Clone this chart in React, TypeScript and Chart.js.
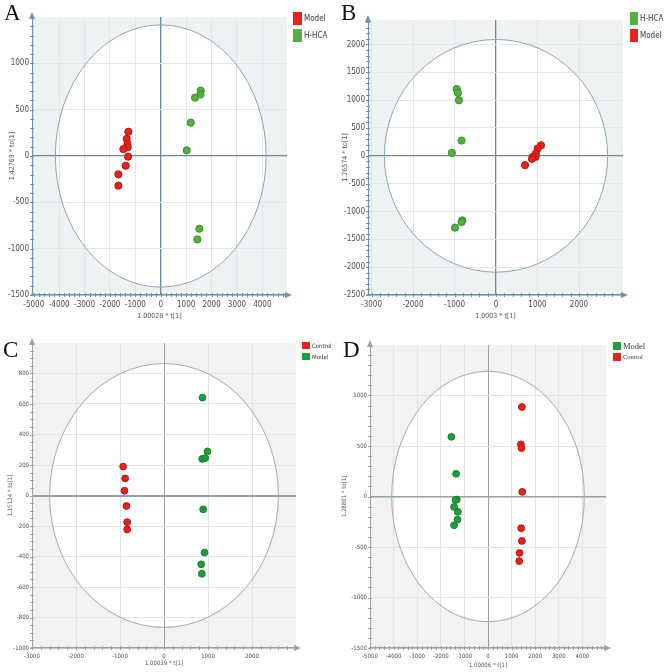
import React, { useEffect, useRef } from "react";
import { Chart, registerables } from "chart.js";
Chart.register(...registerables);

// ---------- Panel A ----------
const A_X_TICKS = [-5000, -4000, -3000, -2000, -1000, 0, 1000, 2000, 3000, 4000];
const A_Y_TICKS = [-1500, -1000, -500, 0, 500, 1000];
const A_MODEL_T = [-1275, -1340, -1310, -1300, -1472, -1287, -1380, -1669, -1669];
const A_MODEL_TO = [262, 185, 130, 95, 75, -7, -105, -198, -320];
const A_HHCA_T = [1575, 1560, 1350, 1181, 1024, 1520, 1441];
const A_HHCA_TO = [705, 665, 630, 360, 61, -785, -900];

// ---------- Panel B ----------
const B_X_TICKS = [-3000, -2000, -1000, 0, 1000, 2000];
const B_Y_TICKS = [-2500, -2000, -1500, -1000, -500, 0, 500, 1000, 1500, 2000];
const B_HHCA_T = [-948, -917, -893, -831, -1064, -815, -830, -988];
const B_HHCA_TO = [1200, 1130, 997, 274, 54, -1160, -1190, -1290];
const B_MODEL_T = [1084, 1004, 960, 956, 884, 867, 699];
const B_MODEL_TO = [190, 131, 40, -18, -20, -54, -168];

// ---------- Panel C ----------
const C_X_TICKS = [-3000, -2000, -1000, 0, 1000, 2000];
const C_Y_TICKS = [-1000, -800, -600, -400, -200, 0, 200, 400, 600, 800];
const C_CONTROL_T = [-929, -883, -898, -852, -837, -837];
const C_CONTROL_TO = [190, 112, 31, -69, -175, -223];
const C_MODEL_T = [875, 989, 868, 936, 890, 921, 845, 860];
const C_MODEL_TO = [642, 289, 240, 245, -91, -374, -451, -513];

// ---------- Panel D ----------
const D_X_TICKS = [-5000, -4000, -3000, -2000, -1000, 0, 1000, 2000, 3000, 4000];
const D_Y_TICKS = [-1500, -1000, -500, 0, 500, 1000];
const D_MODEL_T = [-1552, -1351, -1322, -1380, -1437, -1278, -1293, -1437];
const D_MODEL_TO = [591, 225, -30, -35, -103, -152, -228, -285];
const D_CONTROL_T = [1437, 1394, 1420, 1451, 1408, 1437, 1336, 1322];
const D_CONTROL_TO = [886, 516, 479, 46, -314, -440, -559, -639];

const RED = "#e5231d";
const RED_B = "#b81410";
const GREEN_AB = "#52b13c";
const GREEN_AB_B = "#3a8f2a";
const GREEN_CD = "#1f9e3b";
const GREEN_CD_B = "#16802d";

const NARROW = "'Liberation Sans Narrow', 'DejaVu Sans Condensed', 'Liberation Sans', sans-serif";
const SERIF = "'Liberation Serif', 'DejaVu Serif', serif";

type Series = { label: string; xs: number[]; ys: number[]; color: string; border: string };
type Cfg = {
  letter: string;
  left: number; top: number; w: number; h: number;
  area: { left: number; right: number; top: number; bottom: number };
  xMin: number; xMax: number; yMin: number; yMax: number;
  xTicks: number[]; yTicks: number[];
  xMinor: number; yMinor: number;
  rx: number; ry: number;
  xTitle: string; yTitle: string;
  series: Series[];
  tickSize: number; titleSize: number; radius: number;
  bg: string; grid: string; zeroX: string; zeroY: string; zeroXW: number; zeroYW: number;
  axis: string; ellipse: string;
  legendX: number; legendY: number[]; legendFont: string; legendSizes: number[];
  boxW: number; boxH: number;
  letterX: number; letterY: number;
  titlePadX: number; titlePadY: number;
};

const PANELS: Cfg[] = [
  {
    letter: "A", left: 0, top: 0, w: 330, h: 326,
    area: { left: 32, right: 287, top: 17, bottom: 295 },
    xMin: -5070, xMax: 4970, yMin: -1500, yMax: 1500,
    xTicks: A_X_TICKS, yTicks: A_Y_TICKS, xMinor: 200, yMinor: 100,
    rx: 4150, ry: 1415,
    xTitle: "1.00028 * t[1]", yTitle: "1.42769 * to[1]",
    series: [
      { label: "Model", xs: A_MODEL_T, ys: A_MODEL_TO, color: RED, border: RED_B },
      { label: "H-HCA", xs: A_HHCA_T, ys: A_HHCA_TO, color: GREEN_AB, border: GREEN_AB_B },
    ],
    tickSize: 8, titleSize: 7, radius: 3.6,
    bg: "#eef2f3", grid: "#e0e7ea", zeroX: "#6d8a97", zeroY: "#6d8a97", zeroXW: 1.3, zeroYW: 1.3,
    axis: "#6f94a6", ellipse: "#8ea6b2",
    legendX: 293, legendY: [12, 29], legendFont: NARROW, legendSizes: [8, 8], boxW: 9, boxH: 13,
    letterX: 4, letterY: 1, titlePadX: 8, titlePadY: 6,
  },
  {
    letter: "B", left: 330, top: 0, w: 339, h: 326,
    area: { left: 38, right: 293, top: 20, bottom: 295 },
    xMin: -3085, xMax: 3060, yMin: -2500, yMax: 2440,
    xTicks: B_X_TICKS, yTicks: B_Y_TICKS, xMinor: 200, yMinor: 100,
    rx: 2690, ry: 2090,
    xTitle: "1.0003 * t[1]", yTitle: "1.26574 * to[1]",
    series: [
      { label: "H-HCA", xs: B_HHCA_T, ys: B_HHCA_TO, color: GREEN_AB, border: GREEN_AB_B },
      { label: "Model", xs: B_MODEL_T, ys: B_MODEL_TO, color: RED, border: RED_B },
    ],
    tickSize: 8, titleSize: 7, radius: 3.6,
    bg: "#eef2f3", grid: "#e0e7ea", zeroX: "#6d8a97", zeroY: "#6d8a97", zeroXW: 1.3, zeroYW: 1.3,
    axis: "#6f94a6", ellipse: "#8ea6b2",
    legendX: 300, legendY: [12, 29], legendFont: NARROW, legendSizes: [8, 8], boxW: 8, boxH: 13,
    letterX: 11, letterY: 1, titlePadX: 11, titlePadY: 6,
  },
  {
    letter: "C", left: 0, top: 330, w: 330, h: 342,
    area: { left: 32, right: 296, top: 13, bottom: 318 },
    xMin: -3000, xMax: 3000, yMin: -1000, yMax: 1000,
    xTicks: C_X_TICKS, yTicks: C_Y_TICKS, xMinor: 200, yMinor: 50,
    rx: 2600, ry: 865,
    xTitle: "1.00039 * t[1]", yTitle: "1.15124 * to[1]",
    series: [
      { label: "Control", xs: C_CONTROL_T, ys: C_CONTROL_TO, color: RED, border: RED_B },
      { label: "Model", xs: C_MODEL_T, ys: C_MODEL_TO, color: GREEN_CD, border: GREEN_CD_B },
    ],
    tickSize: 6, titleSize: 6, radius: 3.4,
    bg: "#f2f2f2", grid: "#e3e3e3", zeroX: "#9a9fa0", zeroY: "#8ea3a8", zeroXW: 1, zeroYW: 2,
    axis: "#a0a0a0", ellipse: "#a9a9a9",
    legendX: 302, legendY: [12, 23], legendFont: NARROW, legendSizes: [6, 6], boxW: 8, boxH: 7,
    letterX: 3, letterY: 8, titlePadX: 7, titlePadY: 5,
  },
  {
    letter: "D", left: 330, top: 330, w: 339, h: 342,
    area: { left: 40, right: 276, top: 15, bottom: 318 },
    xMin: -5000, xMax: 5000, yMin: -1500, yMax: 1500,
    xTicks: D_X_TICKS, yTicks: D_Y_TICKS, xMinor: 200, yMinor: 100,
    rx: 4080, ry: 1240,
    xTitle: "1.00006 * t[1]", yTitle: "1.28801 * to[1]",
    series: [
      { label: "Model", xs: D_MODEL_T, ys: D_MODEL_TO, color: GREEN_CD, border: GREEN_CD_B },
      { label: "Control", xs: D_CONTROL_T, ys: D_CONTROL_TO, color: RED, border: RED_B },
    ],
    tickSize: 6, titleSize: 6, radius: 3.4,
    bg: "#f2f2f2", grid: "#e3e3e3", zeroX: "#9a9fa0", zeroY: "#8ea3a8", zeroXW: 1, zeroYW: 1.5,
    axis: "#a0a0a0", ellipse: "#a9a9a9",
    legendX: 283, legendY: [12, 23], legendFont: SERIF, legendSizes: [8.5, 6.5], boxW: 8, boxH: 8,
    letterX: 13, letterY: 8, titlePadX: 11, titlePadY: 3,
  },
];

function Panel({ cfg }: { cfg: Cfg }) {
  const ref = useRef<HTMLCanvasElement>(null);
  useEffect(() => {
    const canvas = ref.current!;
    const deco = {
      id: "pcaDeco",
      beforeDraw(chart: any) {
        const { ctx, chartArea: a, scales } = chart;
        const xs = scales.x, ys = scales.y;
        ctx.save();
        ctx.fillStyle = cfg.bg;
        ctx.fillRect(a.left, a.top, a.right - a.left, a.bottom - a.top);
        const cx = xs.getPixelForValue(0), cy = ys.getPixelForValue(0);
        const rxp = xs.getPixelForValue(cfg.rx) - cx;
        const ryp = cy - ys.getPixelForValue(cfg.ry);
        ctx.beginPath();
        ctx.ellipse(cx, cy, rxp, ryp, 0, 0, Math.PI * 2);
        ctx.fillStyle = "#ffffff";
        ctx.fill();
        ctx.restore();
      },
      beforeDatasetsDraw(chart: any) {
        const { ctx, scales } = chart;
        const xs = scales.x, ys = scales.y;
        const cx = xs.getPixelForValue(0), cy = ys.getPixelForValue(0);
        const rxp = xs.getPixelForValue(cfg.rx) - cx;
        const ryp = cy - ys.getPixelForValue(cfg.ry);
        ctx.save();
        ctx.beginPath();
        ctx.ellipse(cx, cy, rxp, ryp, 0, 0, Math.PI * 2);
        ctx.strokeStyle = cfg.ellipse;
        ctx.lineWidth = 1;
        ctx.stroke();
        ctx.restore();
      },
      afterDraw(chart: any) {
        const { ctx, chartArea: a, scales } = chart;
        const xs = scales.x, ys = scales.y;
        ctx.save();
        ctx.strokeStyle = cfg.axis;
        ctx.fillStyle = cfg.axis;
        ctx.lineWidth = 1;
        ctx.beginPath();
        for (let v = Math.ceil(cfg.xMin / cfg.xMinor) * cfg.xMinor; v <= cfg.xMax; v += cfg.xMinor) {
          const px = Math.round(xs.getPixelForValue(v)) + 0.5;
          ctx.moveTo(px, a.bottom - 2);
          ctx.lineTo(px, a.bottom + 2);
        }
        for (let v = Math.ceil(cfg.yMin / cfg.yMinor) * cfg.yMinor; v <= cfg.yMax; v += cfg.yMinor) {
          const py = Math.round(ys.getPixelForValue(v)) + 0.5;
          ctx.moveTo(a.left - 2, py);
          ctx.lineTo(a.left + 2, py);
        }
        ctx.stroke();
        ctx.beginPath();
        ctx.moveTo(a.right + 5, a.bottom);
        ctx.lineTo(a.right - 2, a.bottom - 3);
        ctx.lineTo(a.right - 2, a.bottom + 3);
        ctx.closePath();
        ctx.fill();
        ctx.beginPath();
        ctx.moveTo(a.left, a.top - 5);
        ctx.lineTo(a.left - 3, a.top + 2);
        ctx.lineTo(a.left + 3, a.top + 2);
        ctx.closePath();
        ctx.fill();
        ctx.restore();
      },
    };
    const gridColor = (zero: string) => (c: any) => (c.tick && c.tick.value === 0 ? zero : cfg.grid);
    const gridWidth = (zw: number) => (c: any) => (c.tick && c.tick.value === 0 ? zw : 1);
    const tickFont = { family: NARROW, size: cfg.tickSize };
    const chart = new Chart(canvas, {
      type: "scatter",
      data: {
        datasets: cfg.series.map((s) => ({
          label: s.label,
          data: s.xs.map((x, i) => ({ x, y: s.ys[i] })),
          backgroundColor: s.color,
          borderColor: s.border,
          borderWidth: 1,
          pointRadius: cfg.radius,
          pointHoverRadius: cfg.radius,
        })),
      },
      options: {
        responsive: false,
        animation: false,
        events: [],
        layout: { padding: { left: 0, top: cfg.area.top, right: cfg.w - cfg.area.right, bottom: 0 } },
        plugins: { legend: { display: false }, tooltip: { enabled: false } },
        scales: {
          x: {
            type: "linear",
            min: cfg.xMin,
            max: cfg.xMax,
            afterBuildTicks: (s: any) => { s.ticks = cfg.xTicks.map((v) => ({ value: v })); },
            afterFit: (s: any) => { s.height = cfg.h - cfg.area.bottom; },
            grid: { color: gridColor(cfg.zeroX), lineWidth: gridWidth(cfg.zeroXW), drawTicks: false },
            border: { color: cfg.axis, width: 1.5 },
            ticks: { callback: (v: any) => String(v), font: tickFont, color: "#4d4d4d", padding: 5, maxRotation: 0, autoSkip: false },
            title: { display: true, text: cfg.xTitle, font: { family: NARROW, size: cfg.titleSize }, color: "#555", padding: { top: 0, bottom: cfg.titlePadY } },
          },
          y: {
            type: "linear",
            min: cfg.yMin,
            max: cfg.yMax,
            afterBuildTicks: (s: any) => { s.ticks = cfg.yTicks.map((v) => ({ value: v })); },
            afterFit: (s: any) => { s.width = cfg.area.left; },
            grid: { color: gridColor(cfg.zeroY), lineWidth: gridWidth(cfg.zeroYW), drawTicks: false },
            border: { color: cfg.axis, width: 1 },
            ticks: { callback: (v: any) => String(v), font: tickFont, color: "#4d4d4d", padding: 3, autoSkip: false },
            title: { display: true, text: cfg.yTitle, font: { family: NARROW, size: cfg.titleSize }, color: "#555", padding: { top: cfg.titlePadX, bottom: 0 } },
          },
        },
      },
      plugins: [deco],
    } as any);
    return () => chart.destroy();
  }, [cfg]);

  return (
    <div style={{ position: "absolute", left: cfg.left, top: cfg.top, width: cfg.w, height: cfg.h }}>
      <canvas ref={ref} width={cfg.w} height={cfg.h} style={{ width: cfg.w, height: cfg.h, display: "block" }} />
      <div style={{ position: "absolute", left: cfg.letterX, top: cfg.letterY, fontFamily: SERIF, fontSize: 23, lineHeight: 1, color: "#111" }}>
        {cfg.letter}
      </div>
      {cfg.series.map((s, i) => (
        <div key={s.label} style={{ position: "absolute", left: cfg.legendX, top: cfg.legendY[i], height: cfg.boxH, display: "flex", alignItems: "center", whiteSpace: "nowrap" }}>
          <span style={{ display: "inline-block", width: cfg.boxW, height: cfg.boxH, background: s.color, marginRight: 2 }} />
          <span style={{ fontFamily: cfg.legendFont, fontSize: cfg.legendSizes[i], color: "#333", lineHeight: 1 }}>{s.label}</span>
        </div>
      ))}
    </div>
  );
}

export default function App() {
  return (
    <div style={{ position: "absolute", left: 0, top: 0, width: 669, height: 672, background: "#fff", overflow: "hidden" }}>
      {PANELS.map((p) => (
        <Panel key={p.letter} cfg={p} />
      ))}
    </div>
  );
}
